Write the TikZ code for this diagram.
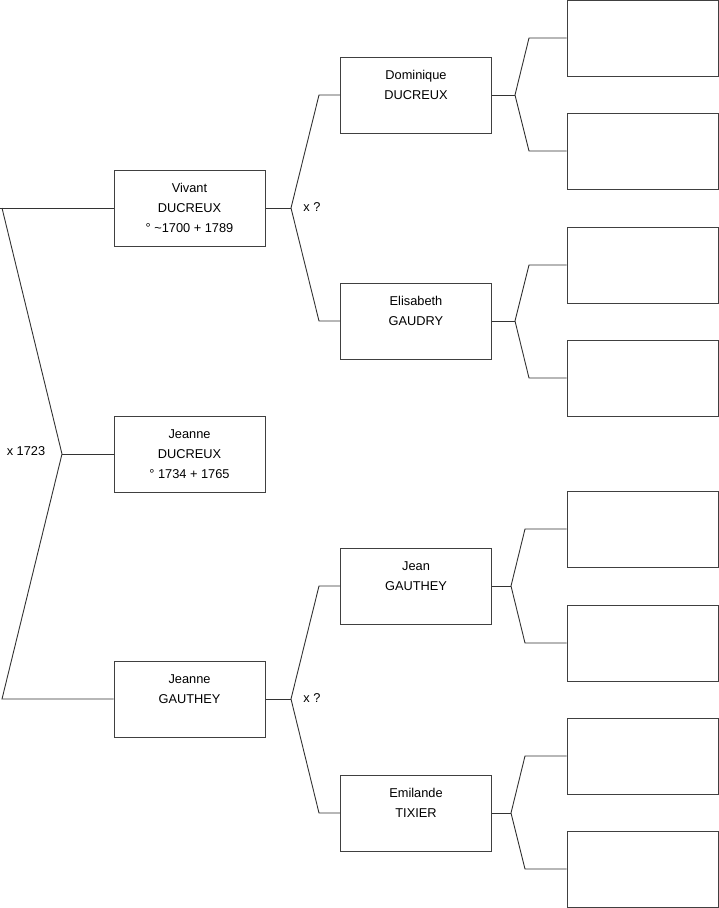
\documentclass[tikz,border=0pt]{standalone}
\usepackage{fontspec}
\setmainfont{Liberation Sans}
\begin{document}
\begin{tikzpicture}[x=1pt,y=-1pt,
  person/.style={draw=black!75, line width=1pt, minimum width=151pt, minimum height=76pt, inner sep=0pt, align=center, font=\fontsize{12.8}{20}\selectfont},
  link/.style={draw=black!80, line width=0.9pt},
  lbl/.style={font=\fontsize{12.8}{14}\selectfont, inner sep=0pt}]
\useasboundingbox (0,0) rectangle (719,908);
% generation 1
\node[person] (viv) at (189.5,208) {Vivant\\DUCREUX\\° \textasciitilde1700 + 1789};
\node[person] (jd) at (189.5,454) {Jeanne\\DUCREUX\\° 1734 + 1765};
\node[person] (jg) at (189.5,699) {Jeanne\\GAUTHEY\\\mbox{}};
% generation 2
\node[person] (dom) at (416,95) {Dominique\\DUCREUX\\\mbox{}};
\node[person] (eli) at (416,321) {Elisabeth\\GAUDRY\\\mbox{}};
\node[person] (jean) at (416,586) {Jean\\GAUTHEY\\\mbox{}};
\node[person] (emi) at (416,813) {Emilande\\TIXIER\\\mbox{}};
% generation 3 (empty)
\node[person] (r1) at (642.5,38) {};
\node[person] (r2) at (642.5,151) {};
\node[person] (r3) at (642.5,265) {};
\node[person] (r4) at (642.5,378) {};
\node[person] (r5) at (642.5,529) {};
\node[person] (r6) at (642.5,643) {};
\node[person] (r7) at (642.5,756) {};
\node[person] (r8) at (642.5,869) {};
% left bracket
\coordinate (l0) at (0,208);
\coordinate (l1) at (2,208);
\coordinate (lv) at (62,454);
\coordinate (l2) at (2,699);
\draw[link] (l0) -- (viv.west);
\draw[link] (l1) -- (lv) -- (l2) -- (jg.west);
\draw[link] (lv) -- (jd.west);
\node[lbl] (m1) at (26,451) {x 1723};
% Vivant bracket
\coordinate (vv) at (291,208);
\draw[link] (viv.east) -- (vv);
\draw[link] (vv) -- (319,95) -- (dom.west);
\draw[link] (vv) -- (319,321) -- (eli.west);
\node[lbl] (m2) at (312,207) {x ?};
% Jeanne GAUTHEY bracket
\coordinate (gv) at (291,699);
\draw[link] (jg.east) -- (gv);
\draw[link] (gv) -- (319,586) -- (jean.west);
\draw[link] (gv) -- (319,813) -- (emi.west);
\node[lbl] (m3) at (312,698) {x ?};
% Dominique bracket
\coordinate (dv) at (515,95);
\draw[link] (dom.east) -- (dv);
\draw[link] (dv) -- (529,38) -- (r1.west);
\draw[link] (dv) -- (529,151) -- (r2.west);
% Elisabeth bracket
\coordinate (ev) at (515,321);
\draw[link] (eli.east) -- (ev);
\draw[link] (ev) -- (529,265) -- (r3.west);
\draw[link] (ev) -- (529,378) -- (r4.west);
% Jean bracket
\coordinate (jv) at (511,586);
\draw[link] (jean.east) -- (jv);
\draw[link] (jv) -- (525,529) -- (r5.west);
\draw[link] (jv) -- (525,643) -- (r6.west);
% Emilande bracket
\coordinate (mv) at (511,813);
\draw[link] (emi.east) -- (mv);
\draw[link] (mv) -- (525,756) -- (r7.west);
\draw[link] (mv) -- (525,869) -- (r8.west);
\end{tikzpicture}
\end{document}
